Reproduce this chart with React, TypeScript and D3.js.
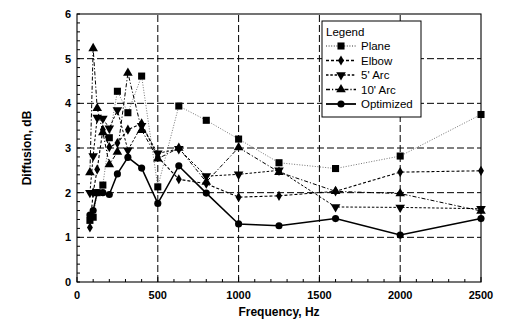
import React from 'react';
import * as d3 from 'd3';

const freqs = [80, 100, 125, 160, 200, 250, 315, 400, 500, 630, 800, 1000, 1250, 1600, 2000, 2500];

const plane = [1.38, 1.45, 2.0, 2.17, 3.23, 4.27, 3.79, 4.61, 2.13, 3.94, 3.62, 3.2, 2.67, 2.54, 2.82, 3.75];
const elbow = [1.22, 2.0, 2.52, 3.41, 3.02, 3.11, 3.41, 3.55, 2.8, 2.3, 2.2, 1.9, 1.93, 2.03, 2.46, 2.49];
const arc5 = [2.0, 2.82, 3.68, 3.66, 3.44, 3.85, 2.95, 3.5, 2.88, 2.98, 2.37, 2.41, 2.5, 1.68, 1.67, 1.64];
const arc10 = [2.45, 5.23, 3.89, 3.35, 2.63, 2.91, 4.68, 3.4, 2.76, 3.0, 2.24, 3.01, 2.46, 2.03, 1.98, 1.59];
const optimized = [1.5, 1.6, 2.0, 2.0, 1.96, 2.42, 2.79, 2.55, 1.76, 2.6, 1.99, 1.3, 1.26, 1.42, 1.05, 1.42];

const xTicks = [0, 500, 1000, 1500, 2000, 2500];
const yTicks = [0, 1, 2, 3, 4, 5, 6];

const series = [
  { name: 'Plane', values: plane, marker: 'square', stroke: '#666', width: 0.9, dash: '1,1.6' },
  { name: 'Elbow', values: elbow, marker: 'diamond', stroke: '#000', width: 1.1, dash: '3,2' },
  { name: "5' Arc", values: arc5, marker: 'down', stroke: '#000', width: 1, dash: '2.5,1.8' },
  { name: "10' Arc", values: arc10, marker: 'up', stroke: '#000', width: 1, dash: '4,2,1.2,2' },
  { name: 'Optimized', values: optimized, marker: 'circle', stroke: '#000', width: 1.5, dash: '' },
];

const font = 'Arial, "Liberation Sans", sans-serif';

function Marker({ type, x, y }: { type: string; x: number; y: number }) {
  let sym: d3.SymbolType = d3.symbolCircle;
  let size = 40;
  let rot = 0;
  if (type === 'square') { sym = d3.symbolSquare; size = 50; }
  if (type === 'diamond') { sym = d3.symbolDiamond; size = 30; }
  if (type === 'up') { sym = d3.symbolTriangle; size = 40; }
  if (type === 'down') { sym = d3.symbolTriangle; size = 40; rot = 180; }
  const d = d3.symbol().type(sym).size(size)() || '';
  return <path d={d} transform={`translate(${x},${y}) rotate(${rot})`} fill="#000" />;
}

export default function App() {
  const width = 505;
  const height = 320;
  const margin = { top: 14, right: 24, bottom: 38, left: 77 };
  const x = d3.scaleLinear().domain([0, 2500]).range([margin.left, width - margin.right]);
  const y = d3.scaleLinear().domain([0, 6]).range([height - margin.bottom, margin.top]);

  const line = d3.line<number>()
    .x((_, i) => x(freqs[i]))
    .y((v) => y(v));

  const xMinor = d3.range(0, 2501, 100);
  const yMinor = d3.range(0, 6.01, 0.2);

  const lx = 322;
  const ly = 21;
  const rowY = (i: number) => ly + 25 + i * 14.5;

  return (
    <svg width={width} height={height} style={{ position: 'absolute', left: 0, top: 0 }}>
      <rect width={width} height={height} fill="#fff" />
      {/* grid */}
      {xTicks.slice(1, -1).map((t) => (
        <line key={'gx' + t} x1={x(t)} x2={x(t)} y1={y(0)} y2={y(6)} stroke="#000" strokeWidth={1} strokeDasharray="7,3" />
      ))}
      {yTicks.slice(1, -1).map((t) => (
        <line key={'gy' + t} x1={x(0)} x2={x(2500)} y1={y(t)} y2={y(t)} stroke="#000" strokeWidth={1} strokeDasharray="7,3" />
      ))}
      {/* minor ticks */}
      {xMinor.map((t) => (
        <line key={'mx' + t} x1={x(t)} x2={x(t)} y1={y(0)} y2={y(0) - (t % 500 === 0 ? 5 : 3)} stroke="#000" />
      ))}
      {yMinor.map((t) => (
        <line key={'my' + t} x1={x(0)} x2={x(0) + 3} y1={y(t)} y2={y(t)} stroke="#000" />
      ))}
      <rect x={x(0)} y={y(6)} width={x(2500) - x(0)} height={y(0) - y(6)} fill="none" stroke="#000" strokeWidth={1.1} />
      {/* series */}
      {series.map((s) => (
        <g key={s.name}>
          <path d={line(s.values) || ''} fill="none" stroke={s.stroke} strokeWidth={s.width} strokeDasharray={s.dash} />
          {s.values.map((v, i) => (
            <Marker key={i} type={s.marker} x={x(freqs[i])} y={y(v)} />
          ))}
        </g>
      ))}
      {/* axis labels */}
      {xTicks.map((t) => (
        <text key={'xl' + t} x={x(t)} y={y(0) + 17} textAnchor="middle" fontFamily={font} fontWeight="bold" fontSize={11}>{t}</text>
      ))}
      {yTicks.map((t) => (
        <text key={'yl' + t} x={x(0) - 6} y={y(t) + 4} textAnchor="end" fontFamily={font} fontWeight="bold" fontSize={11}>{t}</text>
      ))}
      <text x={(x(0) + x(2500)) / 2} y={316} textAnchor="middle" fontFamily={font} fontWeight="bold" fontSize={12}>Frequency, Hz</text>
      <text transform={`translate(31,${(y(0) + y(6)) / 2}) rotate(-90)`} textAnchor="middle" fontFamily={font} fontWeight="bold" fontSize={12}>Diffusion, dB</text>
      {/* legend */}
      <rect x={lx} y={ly} width={99} height={96} fill="#fff" stroke="#000" strokeWidth={1} />
      <text x={lx + 4} y={ly + 15} fontFamily={font} fontSize={11.5}>Legend</text>
      {series.map((s, i) => (
        <g key={'lg' + s.name}>
          <line x1={lx + 4} x2={lx + 34} y1={rowY(i)} y2={rowY(i)} stroke={s.stroke === '#666' ? '#333' : s.stroke} strokeWidth={s.width + 0.3} strokeDasharray={s.dash} />
          <Marker type={s.marker} x={lx + 19} y={rowY(i)} />
          <text x={lx + 39} y={rowY(i) + 4} fontFamily={font} fontSize={11.5}>{s.name}</text>
        </g>
      ))}
    </svg>
  );
}
